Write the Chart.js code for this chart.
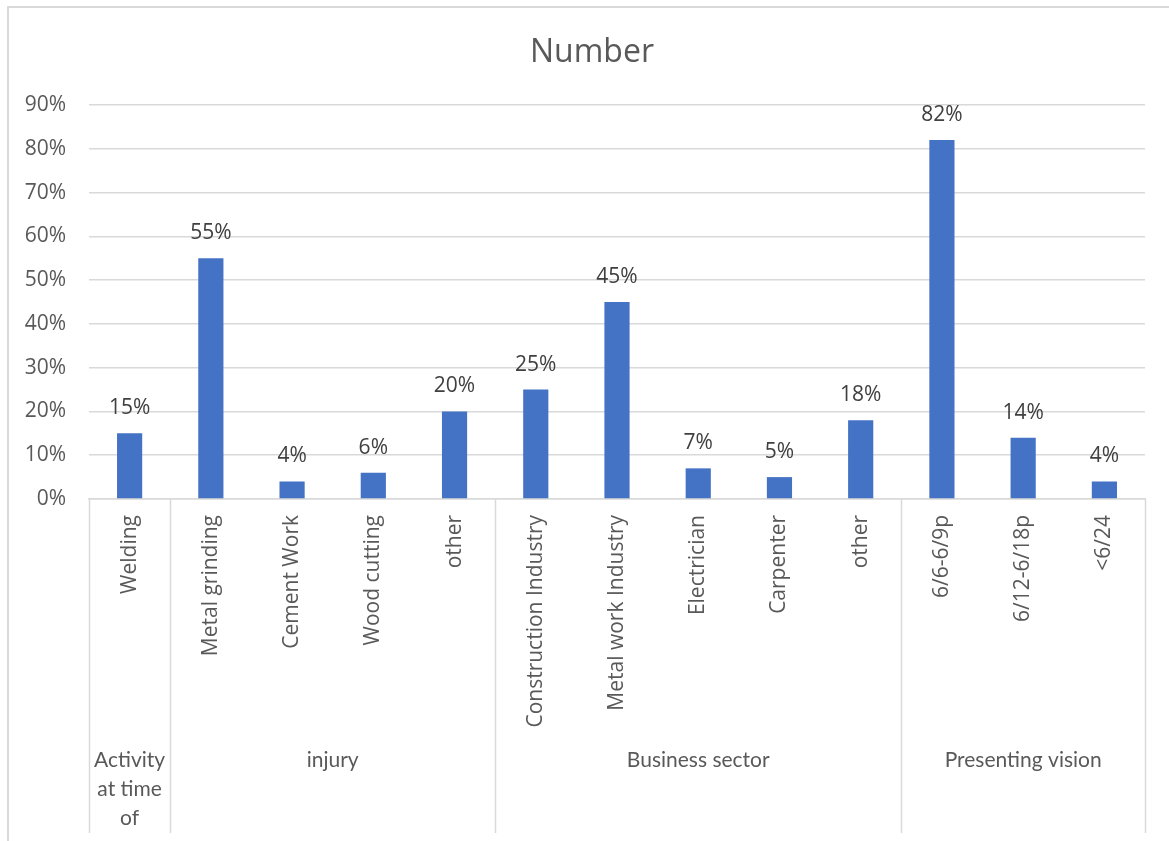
<!DOCTYPE html>
<html>
<head>
<meta charset="utf-8">
<script src="https://cdn.jsdelivr.net/npm/chart.js@4"></script>
<style>
  html, body { margin: 0; padding: 0; background: #fff; }
  #wrap { position: relative; width: 1169px; height: 841px; }
</style>
</head>
<body>
<div id="wrap"><canvas id="chart" width="1169" height="841"></canvas></div>
<script>
// chart data
const categories = ["Welding", "Metal grinding", "Cement Work", "Wood cutting", "other",
  "Construction Industry", "Metal work Industry", "Electrician", "Carpenter", "other",
  "6/6-6/9p", "6/12-6/18p", "<6/24"];
const values = [15, 55, 4, 6, 20, 25, 45, 7, 5, 18, 82, 14, 4];
const groups = ["Activity at time of", "injury", "Business sector", "Presenting vision"];
const groupSizes = [1, 4, 5, 3];
const chartTitle = "Number";
const yMax = 90;
const yStep = 10;

const GREY = "#d9d9d9";
const TEXT = "#595959";

// frame round the chart (only top and left edges show) + title
const framePlugin = {
  id: "frame",
  beforeDraw(chart) {
    const ctx = chart.ctx;
    ctx.save();
    ctx.strokeStyle = GREY;
    ctx.lineWidth = 2;
    ctx.beginPath();
    ctx.moveTo(8, chart.height);
    ctx.lineTo(8, 7);
    ctx.lineTo(chart.width, 7);
    ctx.stroke();
    ctx.font = "32px 'Open Sans'";
    ctx.fillStyle = TEXT;
    ctx.textAlign = "center";
    ctx.textBaseline = "alphabetic";
    ctx.fillText(chartTitle, 592, 62);
    ctx.restore();
  }
};

// value labels above bars
const valueLabels = {
  id: "valueLabels",
  afterDatasetsDraw(chart) {
    const ctx = chart.ctx;
    const meta = chart.getDatasetMeta(0);
    ctx.save();
    ctx.font = "21px 'Open Sans'";
    ctx.fillStyle = "#404040";
    ctx.textAlign = "center";
    ctx.textBaseline = "alphabetic";
    meta.data.forEach((bar, i) => {
      ctx.fillText(values[i] + "%", bar.x, bar.y - 19);
    });
    ctx.restore();
  }
};

// wrap a label into lines that fit a width
function wrapText(ctx, text, maxW) {
  const words = text.split(" ");
  const lines = [];
  let line = "";
  words.forEach(w => {
    const test = line ? line + " " + w : w;
    if (ctx.measureText(test).width > maxW && line) {
      lines.push(line);
      line = w;
    } else {
      line = test;
    }
  });
  if (line) lines.push(line);
  return lines;
}

// second level of the category axis: group separators and names
const groupAxis = {
  id: "groupAxis",
  afterDraw(chart) {
    const ctx = chart.ctx;
    const x = chart.scales.x;
    const top = chart.chartArea.bottom;
    const bottom = 833;
    const half = (x.getPixelForValue(1) - x.getPixelForValue(0)) / 2;
    ctx.save();
    ctx.strokeStyle = GREY;
    ctx.lineWidth = 1.5;
    let start = 0;
    const edges = [x.getPixelForValue(0) - half];
    groupSizes.forEach(n => {
      start += n;
      edges.push(x.getPixelForValue(start - 1) + half);
    });
    edges.forEach(px => {
      ctx.beginPath();
      ctx.moveTo(Math.round(px) + 0.5, top);
      ctx.lineTo(Math.round(px) + 0.5, bottom);
      ctx.stroke();
    });
    ctx.font = "21px Lato";
    ctx.fillStyle = TEXT;
    ctx.textAlign = "center";
    ctx.textBaseline = "middle";
    groups.forEach((g, i) => {
      const l = edges[i], r = edges[i + 1];
      const lines = wrapText(ctx, g, r - l - 4);
      lines.forEach((ln, k) => {
        ctx.fillText(ln, (l + r) / 2, 760 + k * 29);
      });
    });
    ctx.restore();
  }
};

new Chart(document.getElementById("chart"), {
  type: "bar",
  data: {
    labels: categories,
    datasets: [{
      data: values,
      backgroundColor: "#4472C4",
      barPercentage: 0.31,
      categoryPercentage: 1
    }]
  },
  options: {
    responsive: false,
    animation: false,
    layout: { padding: { left: 0, right: 24, top: 105, bottom: 0 } },
    plugins: {
      legend: { display: false },
      tooltip: { enabled: false },
      title: { display: false }
    },
    scales: {
      x: {
        grid: { display: false, drawTicks: false },
        border: { display: true, color: GREY, width: 1.5 },
        ticks: {
          color: TEXT,
          font: { family: "'Open Sans'", size: 21 },
          minRotation: 90,
          maxRotation: 90,
          autoSkip: false,
          padding: 16
        },
        afterFit(scale) { scale.height = 342; }
      },
      y: {
        min: 0,
        max: yMax,
        grid: { color: GREY, lineWidth: 1.5, drawTicks: false },
        border: { display: false },
        ticks: {
          stepSize: yStep,
          color: TEXT,
          font: { family: "'Open Sans'", size: 21 },
          padding: 23,
          callback: v => v + "%"
        },
        afterFit(scale) { scale.width = 89; }
      }
    }
  },
  plugins: [framePlugin, valueLabels, groupAxis]
});
</script>
</body>
</html>
